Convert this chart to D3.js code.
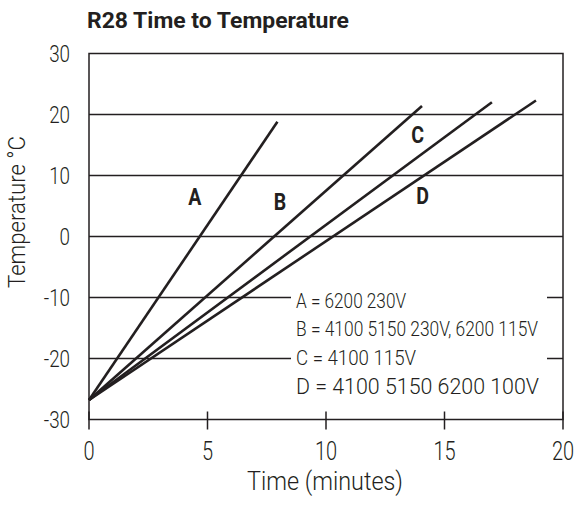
<!DOCTYPE html>
<html>
<head>
<meta charset="utf-8">
<script src="https://cdn.jsdelivr.net/npm/d3@7"></script>
<style>
html,body{margin:0;padding:0;background:#fff;}
text{font-family:Roboto,"Liberation Sans",sans-serif;fill:#231f20;}
</style>
</head>
<body>
<svg id="chart" width="576" height="506"></svg>
<script>
// ---- data ----
const seriesNames = ["A", "B", "C", "D"];
const startPoint = [0, -26.8];
const endTimes = [7.95, 14.05, 17.0, 18.86];
const endTemps = [18.8, 21.4, 22.0, 22.3];
const xTicks = [0, 5, 10, 15, 20];
const yTicks = [30, 20, 10, 0, -10, -20, -30];
const legendLabels = ["A = 6200 230V", "B = 4100 5150 230V, 6200 115V", "C = 4100 115V", "D = 4100 5150 6200 100V"];
const labelTimes = [4.46, 8.06, 13.87, 14.08];
const labelTemps = [5.2, 4.4, 15.25, 5.3];
const titleText = "R28 Time to Temperature";
const xTitle = "Time (minutes)";
const yTitle = "Temperature °C";

const ink = "#231f20";
const svg = d3.select("#chart");
const x = d3.scaleLinear().domain([0, 20]).range([89, 563]);
const y = d3.scaleLinear().domain([-30, 30]).range([419.5, 53.5]);
const sx = 0.8; // condensed look

// title
svg.append("text").attr("x", 87).attr("y", 28)
  .attr("font-size", 22).attr("font-weight", "bold")
  .attr("textLength", 262).attr("lengthAdjust", "spacingAndGlyphs")
  .text(titleText);

// gridlines
svg.append("g").selectAll("line").data(yTicks.filter(d => d > -30 && d < 30)).join("line")
  .attr("x1", x(0)).attr("x2", x(20))
  .attr("y1", d => y(d)).attr("y2", d => y(d))
  .attr("stroke", ink).attr("stroke-width", 1.4);

// legend white box (covers gridlines)
svg.append("rect").attr("x", 291).attr("y", 284).attr("width", 256).attr("height", 116).attr("fill", "#fff");

// frame
svg.append("rect").attr("x", x(0)).attr("y", y(30))
  .attr("width", x(20) - x(0)).attr("height", y(-30) - y(30))
  .attr("fill", "none").attr("stroke", ink).attr("stroke-width", 1.5);

// x ticks
svg.append("g").selectAll("line").data(xTicks).join("line")
  .attr("x1", d => x(d)).attr("x2", d => x(d))
  .attr("y1", y(-30) - 8).attr("y2", y(-30) + 10)
  .attr("stroke", ink).attr("stroke-width", 1.5);

// x tick labels
svg.append("g").selectAll("text").data(xTicks).join("text")
  .attr("transform", d => `translate(${x(d)},460) scale(${sx},1)`)
  .attr("text-anchor", "middle").attr("font-size", 25).attr("font-weight", 300)
  .text(d => d);

// y tick labels
svg.append("g").selectAll("text").data(yTicks).join("text")
  .attr("transform", d => `translate(70,${y(d) + 8.5}) scale(${sx},1)`)
  .attr("text-anchor", "end").attr("font-size", 23.5).attr("font-weight", 300)
  .text(d => d);

// axis titles
svg.append("text").attr("x", 325).attr("y", 490)
  .attr("text-anchor", "middle").attr("font-size", 26).attr("font-weight", 300)
  .attr("textLength", 156).attr("lengthAdjust", "spacingAndGlyphs")
  .text(xTitle);
svg.append("text").attr("transform", "translate(25,212) rotate(-90)")
  .attr("text-anchor", "middle").attr("font-size", 23.5).attr("font-weight", 300)
  .attr("textLength", 152).attr("lengthAdjust", "spacingAndGlyphs")
  .text(yTitle);

// data lines
const lineGen = d3.line().x(d => x(d[0])).y(d => y(d[1]));
svg.append("g").selectAll("path").data(seriesNames.map((n, i) => [startPoint, [endTimes[i], endTemps[i]]])).join("path")
  .attr("d", lineGen).attr("fill", "none").attr("stroke", ink).attr("stroke-width", 2.6);

// series labels
svg.append("g").selectAll("text").data(seriesNames).join("text")
  .attr("transform", (d, i) => `translate(${x(labelTimes[i])},${y(labelTemps[i])}) scale(0.85,1)`)
  .attr("text-anchor", "middle").attr("font-size", 23).attr("font-weight", "bold")
  .text(d => d);

// legend text
const legendWidths = [110, 242, 120, 243];
const legendSizes = [20, 20, 20, 22];
svg.append("g").selectAll("text").data(legendLabels).join("text")
  .attr("x", 296).attr("y", (d, i) => 308 + i * 28.4 + (i === 3 ? 1 : 0))
  .attr("font-size", (d, i) => legendSizes[i]).attr("font-weight", 300)
  .attr("textLength", (d, i) => legendWidths[i]).attr("lengthAdjust", "spacingAndGlyphs")
  .text(d => d);
</script>
</body>
</html>
